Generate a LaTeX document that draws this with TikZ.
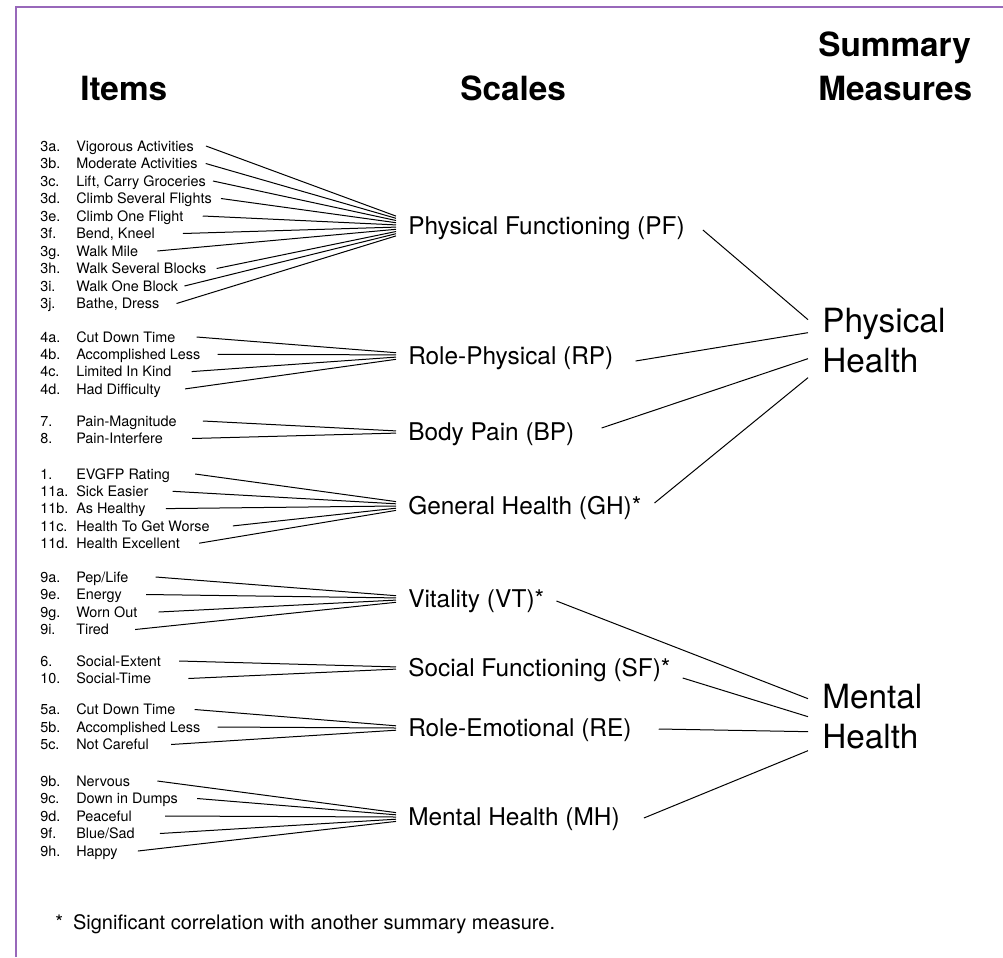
\documentclass[tikz,border=0pt]{standalone}
\usepackage{fontspec}
\setmainfont{TeX Gyre Heros}
\usetikzlibrary{calc}
\definecolor{framepurple}{RGB}{152,104,186}

\tikzset{
  frame/.style={line width=2.2pt,draw=framepurple},
  head/.style={inner sep=0pt,font=\fontsize{25}{33}\selectfont\bfseries},
  itemtxt/.style={anchor=west,inner sep=0pt,text height=7.8pt,text depth=0pt,font=\fontsize{10.8}{13}\selectfont},
  scalelab/.style={anchor=west,inner sep=0pt,text height=13.2pt,text depth=0pt,font=\fontsize{18.3}{22}\selectfont},
  summary/.style={anchor=north west,align=left,inner sep=0pt,font=\fontsize{25}{30}\selectfont},
  link/.style={line width=0.75pt}
}

\begin{document}
\begin{tikzpicture}[x=0.75pt,y=-0.75pt]
  \useasboundingbox (0,0) rectangle (1003,957);
  \draw[frame] (16,957) -- (16,7) -- (1003,7);

  % column heads
  \node[head,anchor=base west] (hitems) at (80,100) {Items};
  \node[head,anchor=base west] (hscales) at (460,100) {Scales};
  \node[head,anchor=north west,align=left] (hsum) at (818,32) {Summary\\Measures};

  % scales
  \node[scalelab] (pf) at (408,226) {Physical Functioning (PF)};
  \node[scalelab] (rp) at (408,356) {Role-Physical (RP)};
  \node[scalelab] (bp) at (408,432) {Body Pain (BP)};
  \node[scalelab] (gh) at (408,506) {General Health (GH)*};
  \node[scalelab] (vt) at (408,599) {Vitality (VT)*};
  \node[scalelab] (sf) at (408,668) {Social Functioning (SF)*};
  \node[scalelab] (re) at (408,728) {Role-Emotional (RE)};
  \node[scalelab] (mh) at (408,817) {Mental Health (MH)};
  \foreach \s in {pf,rp,bp,gh,vt,sf,re,mh}
    \coordinate (\s-in) at ($(\s.west)+(-12,0)$);

  % summary measures
  \node[summary] (phys) at (822,308) {Physical\\Health};
  \node[summary] (ment) at (822,684) {Mental\\Health};

  % items
  \foreach \id/\num/\txt/\gap [count=\k] in {3a/3a./Vigorous Activities/12,3b/3b./Moderate Activities/8,
      3c/3c./{Lift, Carry Groceries}/7,3d/3d./Climb Several Flights/9,3e/3e./Climb One Flight/19,
      3f/3f./{Bend, Kneel}/28,3g/3g./Walk Mile/19,3h/3h./Walk Several Blocks/10,
      3i/3i./Walk One Block/6,3j/3j./{Bathe, Dress}/17}{
    \node[itemtxt] (n\id) at (40,{146+(\k-1)*17.5}) {\num};
    \node[itemtxt] (t\id) at (76,{146+(\k-1)*17.5}) {\txt};
    \draw[link] ($(t\id.east)+(\gap,0)$) -- ($(pf-in)+(0,{(\k-5.5)*2.2})$);
  }
  \foreach \id/\num/\txt/\gap [count=\k] in {4a/4a./Cut Down Time/21,4b/4b./Accomplished Less/17,
      4c/4c./Limited In Kind/20,4d/4d./Had Difficulty/24}{
    \node[itemtxt] (n\id) at (40,{337+(\k-1)*17.3}) {\num};
    \node[itemtxt] (t\id) at (76,{337+(\k-1)*17.3}) {\txt};
    \draw[link] ($(t\id.east)+(\gap,0)$) -- ($(rp-in)+(0,{(\k-2.5)*2.2})$);
  }
  \foreach \id/\num/\txt/\gap [count=\k] in {7/7./Pain-Magnitude/26,8/8./Pain-Interfere/29}{
    \node[itemtxt] (n\id) at (40,{421+(\k-1)*17.5}) {\num};
    \node[itemtxt] (t\id) at (76,{421+(\k-1)*17.5}) {\txt};
    \draw[link] ($(t\id.east)+(\gap,0)$) -- ($(bp-in)+(0,{(\k-1.5)*2.2})$);
  }
  \foreach \id/\num/\txt/\gap [count=\k] in {1/1./EVGFP Rating/25,11a/11a./Sick Easier/24,
      11b/11b./As Healthy/20,11c/11c./Health To Get Worse/23,11d/11d./Health Excellent/19}{
    \node[itemtxt] (n\id) at (40,{474+(\k-1)*17.3}) {\num};
    \node[itemtxt] (t\id) at (76,{474+(\k-1)*17.3}) {\txt};
    \draw[link] ($(t\id.east)+(\gap,0)$) -- ($(gh-in)+(0,{(\k-3)*2.2})$);
  }
  \foreach \id/\num/\txt/\gap [count=\k] in {9a/9a./{Pep/Life}/27,9e/9e./Energy/24,
      9g/9g./Worn Out/21,9i/9i./Tired/26}{
    \node[itemtxt] (n\id) at (40,{577+(\k-1)*17.5}) {\num};
    \node[itemtxt] (t\id) at (76,{577+(\k-1)*17.5}) {\txt};
    \draw[link] ($(t\id.east)+(\gap,0)$) -- ($(vt-in)+(0,{(\k-2.5)*2.2})$);
  }
  \foreach \id/\num/\txt/\gap [count=\k] in {6/6./Social-Extent/18,10/10./Social-Time/37}{
    \node[itemtxt] (n\id) at (40,{661+(\k-1)*17.5}) {\num};
    \node[itemtxt] (t\id) at (76,{661+(\k-1)*17.5}) {\txt};
    \draw[link] ($(t\id.east)+(\gap,0)$) -- ($(sf-in)+(0,{(\k-1.5)*2.2})$);
  }
  \foreach \id/\num/\txt/\gap [count=\k] in {5a/5a./Cut Down Time/19,5b/5b./Accomplished Less/17,
      5c/5c./Not Careful/22}{
    \node[itemtxt] (n\id) at (40,{709.5+(\k-1)*17.5}) {\num};
    \node[itemtxt] (t\id) at (76,{709.5+(\k-1)*17.5}) {\txt};
    \draw[link] ($(t\id.east)+(\gap,0)$) -- ($(re-in)+(0,{(\k-2)*2.2})$);
  }
  \foreach \id/\num/\txt/\gap [count=\k] in {9b/9b./Nervous/27,9c/9c./Down in Dumps/19,
      9d/9d./Peaceful/33,9f/9f./{Blue/Sad}/25,9h/9h./Happy/20}{
    \node[itemtxt] (n\id) at (40,{781+(\k-1)*17.5}) {\num};
    \node[itemtxt] (t\id) at (76,{781+(\k-1)*17.5}) {\txt};
    \draw[link] ($(t\id.east)+(\gap,0)$) -- ($(mh-in)+(0,{(\k-3)*2.2})$);
  }

  % scales to summary measures
  \draw[link] ($(pf.east)+(18,4)$) -- ($(phys.west)+(-14,-21)$);
  \draw[link] ($(rp.east)+(22,5)$) -- ($(phys.west)+(-14,-8)$);
  \draw[link] ($(bp.east)+(27,-4)$) -- ($(phys.west)+(-14,18)$);
  \draw[link] ($(gh.east)+(13,-3)$) -- ($(phys.west)+(-14,37)$);
  \draw[link] ($(vt.east)+(12,2)$) -- ($(ment.west)+(-14,-18)$);
  \draw[link] ($(sf.east)+(12,10)$) -- ($(ment.west)+(-14,0)$);
  \draw[link] ($(re.east)+(27,1)$) -- ($(ment.west)+(-14,15)$);
  \draw[link] ($(mh.east)+(24,1)$) -- ($(ment.west)+(-14,34)$);

  % footnote
  \node[anchor=base west,inner sep=0pt,font=\fontsize{15}{18}\selectfont] (note) at (55,929)
    {*\enspace Significant correlation with another summary measure.};
\end{tikzpicture}
\end{document}
